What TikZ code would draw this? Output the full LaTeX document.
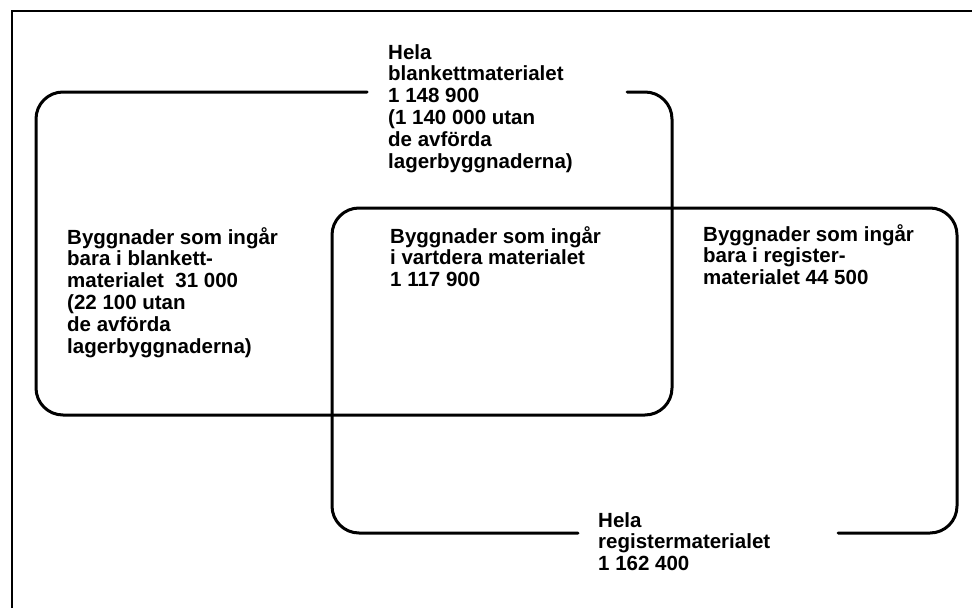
\documentclass[tikz,border=0pt]{standalone}
\usepackage{fontspec}
\setmainfont{Liberation Sans}
\begin{document}
\begin{tikzpicture}[x=1pt,y=-1pt,
  frame/.style={line width=1.4pt},
  setline/.style={line width=3pt,rounded corners=27pt,line cap=round},
  lbl/.style={anchor=north west,inner sep=0pt,align=left,
    font=\fontsize{20.5}{21.8}\selectfont\bfseries}]
\useasboundingbox (0,0) rectangle (972,608);
% outer frame (partly cropped)
\draw[frame] (12,608) -- (12,11) -- (972,11);
% set A: whole blankett material
\draw[setline] (367,92) -- (36,92) -- (36,415) -- (672,415) -- (672,92) -- (627,92);
% set B: whole register material
\draw[setline] (578,533) -- (332,533) -- (332,208) -- (957,208) -- (957,533) -- (838,533);
% labels
\node[lbl] (hb) at (388,44) {Hela\\blankettmaterialet\\1 148 900\\(1 140 000 utan\\de avförda\\lagerbyggnaderna)};
\node[lbl] (ob) at (67,227) {Byggnader som ingår\\bara i blankett-\\materialet\ \ 31 000\\(22 100 utan\\de avförda\\lagerbyggnaderna)};
\node[lbl] (bo) at (390,226) {Byggnader som ingår\\i vartdera materialet\\1 117 900};
\node[lbl] (or) at (703,224) {Byggnader som ingår\\bara i register-\\materialet 44 500};
\node[lbl] (hr) at (598,512) {Hela\\registermaterialet\\1 162 400};
\end{tikzpicture}
\end{document}
